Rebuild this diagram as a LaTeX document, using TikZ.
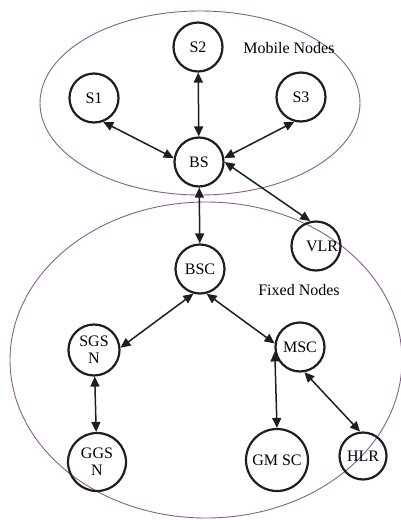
\documentclass[tikz,border=0pt]{standalone}
\usepackage{fontspec}
\setmainfont{Liberation Serif}
\usetikzlibrary{arrows.meta}
\definecolor{purp}{RGB}{140,90,150}
\definecolor{ink}{RGB}{30,30,30}
\begin{document}
\begin{tikzpicture}[x=1pt,y=-1pt,
  nd/.style={circle,draw=ink,line width=2.2pt,minimum size=49pt,inner sep=0pt,
             font=\fontsize{16}{17}\selectfont,align=center},
  lk/.style={{Triangle[length=10pt,width=9pt]}-{Triangle[length=10pt,width=9pt]},
             line width=1.5pt,draw=ink},
  grp/.style={draw=purp,line width=0.9pt},
  lbl/.style={font=\fontsize{16}{17}\selectfont,inner sep=0pt}]
\useasboundingbox (0,0) rectangle (401,520);
\draw[grp] (200,103) ellipse [x radius=160, y radius=92];
\draw[grp] (206,360) ellipse [x radius=196, y radius=158];

\node[nd] (S2) at (198,47) {S2};
\node[nd] (S1) at (94,98) {S1};
\node[nd] (S3) at (301,97) {S3};
\node[nd] (BS) at (199,162) {BS};
\node[nd] (VLR) at (316,246) {\hspace*{12pt}VLR};
\node[nd] (BSC) at (200,269) {BSC};
\node[nd,minimum size=51pt] (SGSN) at (94,350) {SGS\\N};
\node[nd] (MSC) at (300,347) {MSC};
\node[nd,minimum size=58pt] (GGSN) at (97,462) {GGS\\N};
\node[nd,minimum size=62pt] (GMSC) at (277,460) {GM SC};
\node[nd,minimum size=47pt] (HLR) at (363,456) {HLR};

\node[lbl] (mob) at (289,48) {Mobile Nodes};
\node[lbl] (fix) at (299,290) {Fixed Nodes};

\draw[lk] (S1.-69) -- (BS.171);
\draw[lk] (S2) -- (BS);
\draw[lk] (S3.-105) -- (BS.9);
\draw[lk] (BS.0) -- (VLR.103);
\draw[lk] (BS) -- (BSC);
\draw[lk] (BSC.-105) -- (SGSN.5);
\draw[lk] (BSC.-75) -- (MSC.172);
\draw[lk] (SGSN) -- (GGSN);
\draw[lk] (MSC.190) -- (GMSC.north);
\draw[lk] (MSC.-80) -- (HLR.97);
\end{tikzpicture}
\end{document}
